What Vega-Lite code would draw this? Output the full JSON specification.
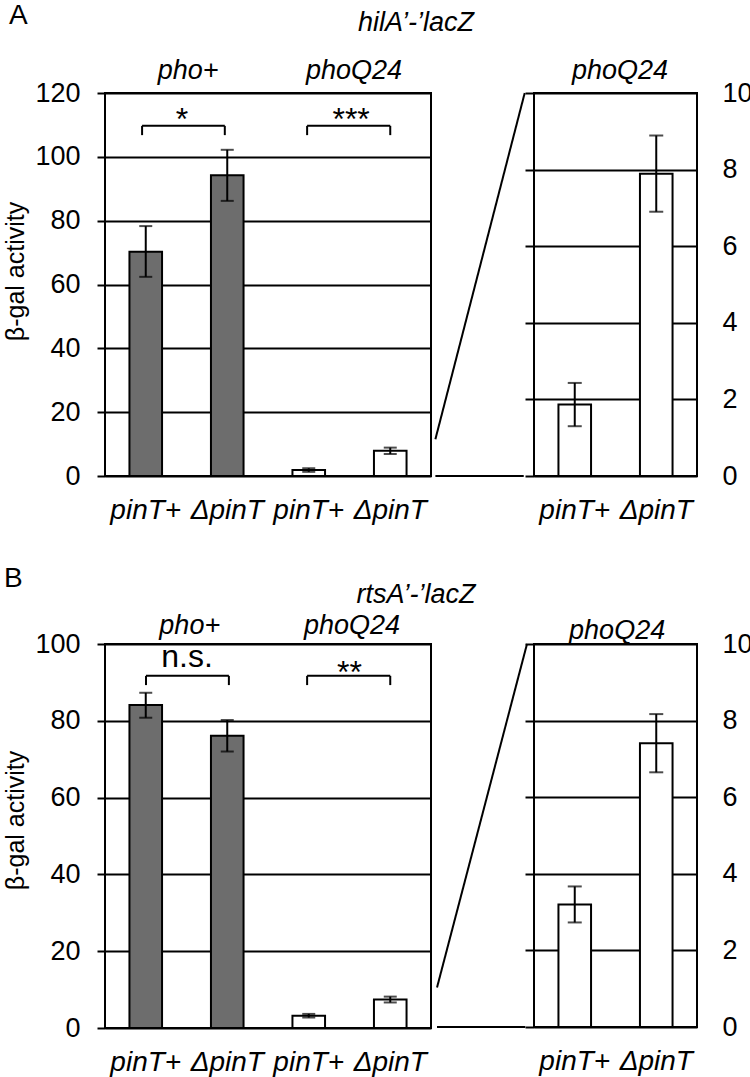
{
  "$schema": "https://vega.github.io/schema/vega-lite/v6.json",
  "background": "white",
  "padding": {"left": 2, "top": 0, "right": 0, "bottom": 0},
  "config": {
    "font": "Liberation Sans",
    "view": {"stroke": "black", "strokeWidth": 2},
    "axis": {"labelColor": "black", "titleColor": "black", "gridColor": "black", "gridWidth": 2, "gridOpacity": 1, "tickColor": "black", "tickWidth": 2, "domainColor": "black", "labelFont": "Liberation Sans", "titleFont": "Liberation Sans"},
    "text": {"color": "black", "font": "Liberation Sans"}
  },
  "datasets": {
    "A_main": [
      {"id": "pho+|pinT+", "group": "pho+", "mean": 70.3, "lo": 62.4, "hi": 78.3},
      {"id": "pho+|ΔpinT", "group": "pho+", "mean": 94.2, "lo": 86.2, "hi": 102.2},
      {"id": "phoQ24|pinT+", "group": "phoQ24", "mean": 1.87, "lo": 1.3, "hi": 2.43},
      {"id": "phoQ24|ΔpinT", "group": "phoQ24", "mean": 7.89, "lo": 6.9, "hi": 8.89}
    ],
    "A_zoom": [
      {"id": "pinT+", "group": "phoQ24", "mean": 1.87, "lo": 1.3, "hi": 2.43},
      {"id": "ΔpinT", "group": "phoQ24", "mean": 7.89, "lo": 6.9, "hi": 8.89}
    ],
    "B_main": [
      {"id": "pho+|pinT+", "group": "pho+", "mean": 84.1, "lo": 80.8, "hi": 87.3},
      {"id": "pho+|ΔpinT", "group": "pho+", "mean": 76.1, "lo": 72.0, "hi": 80.2},
      {"id": "phoQ24|pinT+", "group": "phoQ24", "mean": 3.2, "lo": 2.73, "hi": 3.67},
      {"id": "phoQ24|ΔpinT", "group": "phoQ24", "mean": 7.41, "lo": 6.65, "hi": 8.17}
    ],
    "B_zoom": [
      {"id": "pinT+", "group": "phoQ24", "mean": 3.2, "lo": 2.73, "hi": 3.67},
      {"id": "ΔpinT", "group": "phoQ24", "mean": 7.41, "lo": 6.65, "hi": 8.17}
    ],
    "A_brackets": [
      {"xa": 0.455, "xb": 1.47, "ytop": 109.7, "ybot": 106.8},
      {"xa": 2.48, "xb": 3.5, "ytop": 109.7, "ybot": 106.8}
    ],
    "B_brackets": [
      {"xa": 0.503, "xb": 1.52, "ytop": 91.7, "ybot": 89.3},
      {"xa": 2.48, "xb": 3.5, "ytop": 91.7, "ybot": 89.3}
    ],
    "A_sig": [
      {"x": 0.945, "y": 108.5, "label": "*"},
      {"x": 3.02, "y": 108.5, "label": "***"}
    ],
    "B_sig": [
      {"x": 1.006, "y": 94.1, "label": "n.s."},
      {"x": 3.0, "y": 89.8, "label": "**"}
    ],
    "A_groups": [
      {"x": 1.02, "y": 124.4, "label": "pho+"},
      {"x": 3.055, "y": 124.4, "label": "phoQ24"}
    ],
    "B_groups": [
      {"x": 1.04, "y": 102.6, "label": "pho+"},
      {"x": 3.03, "y": 102.6, "label": "phoQ24"}
    ],
    "A_letter": [{"x": -1.178, "y": 141.7, "label": "A"}],
    "B_letter": [{"x": -1.24, "y": 114.8, "label": "B"}],
    "A_gene": [{"x": 3.816, "y": 139.5, "label": "hilA’-’lacZ"}],
    "B_gene": [{"x": 3.816, "y": 110.7, "label": "rtsA’-’lacZ"}],
    "A_conn": [
      {"xa": -1.21, "xb": -0.114, "ya": 0.96, "yb": 10},
      {"xa": -1.21, "xb": -0.126, "ya": 0, "yb": 0}
    ],
    "B_conn": [
      {"xa": -1.19, "xb": -0.086, "ya": 1.03, "yb": 10},
      {"xa": -1.19, "xb": -0.107, "ya": 0, "yb": 0}
    ],
    "A_ztitle": [{"x": 1.055, "y": 10.36, "label": "phoQ24"}],
    "B_ztitle": [{"x": 1.02, "y": 10.12, "label": "phoQ24"}]
  },
  "vconcat": [
    {
      "hconcat": [
        {
          "width": 326, "height": 383,
          "layer": [
            {
              "data": {"name": "A_main"},
              "layer": [
                {
                  "mark": {"type": "bar", "width": {"band": 0.4}, "stroke": "black", "strokeWidth": 2},
                  "encoding": {
                    "x": {"field": "id", "type": "nominal", "sort": null, "scale": {"paddingInner": 0, "paddingOuter": 0},
                      "axis": {"title": null, "labelExpr": "split(datum.value, '|')[1]", "labelAngle": 0, "labelFontSize": 28, "labelFontStyle": "italic", "ticks": false, "tickSize": 0, "domain": false, "labelPadding": 20, "grid": false}},
                    "y": {"field": "mean", "type": "quantitative", "scale": {"domain": [0, 120], "nice": false},
                      "axis": {"values": [0, 20, 40, 60, 80, 100, 120], "grid": true, "domain": false, "tickSize": 8, "labelFontSize": 27, "labelPadding": 17, "title": "β-gal activity", "titleFontSize": 25, "titleFontWeight": "normal", "titlePadding": 6, "titleY": 178}},
                    "color": {"field": "group", "type": "nominal", "scale": {"domain": ["pho+", "phoQ24"], "range": ["#6d6d6d", "#ffffff"]}, "legend": null}
                  }
                },
                {
                  "mark": {"type": "rule", "color": "black", "strokeWidth": 2},
                  "encoding": {
                    "x": {"field": "id", "type": "nominal", "sort": null},
                    "y": {"field": "lo", "type": "quantitative", "scale": {"domain": [0, 120], "nice": false}},
                    "y2": {"field": "hi"}
                  }
                },
                {
                  "mark": {"type": "tick", "orient": "horizontal", "size": 13, "thickness": 2, "color": "black"},
                  "encoding": {
                    "x": {"field": "id", "type": "nominal", "sort": null},
                    "y": {"field": "lo", "type": "quantitative", "scale": {"domain": [0, 120], "nice": false}}
                  }
                },
                {
                  "mark": {"type": "tick", "orient": "horizontal", "size": 13, "thickness": 2, "color": "black"},
                  "encoding": {
                    "x": {"field": "id", "type": "nominal", "sort": null},
                    "y": {"field": "hi", "type": "quantitative", "scale": {"domain": [0, 120], "nice": false}}
                  }
                }
              ]
            },
            {
              "layer": [
                {
                  "data": {"name": "A_brackets"},
                  "mark": {"type": "rule", "color": "black", "strokeWidth": 2, "clip": false},
                  "encoding": {
                    "x": {"field": "xa", "type": "quantitative", "scale": {"domain": [0, 4], "nice": false, "zero": false}, "axis": null},
                    "x2": {"field": "xb"},
                    "y": {"field": "ytop", "type": "quantitative", "scale": {"domain": [0, 120], "nice": false}}
                  }
                },
                {
                  "data": {"name": "A_brackets"},
                  "mark": {"type": "rule", "color": "black", "strokeWidth": 2, "clip": false},
                  "encoding": {
                    "x": {"field": "xa", "type": "quantitative", "scale": {"domain": [0, 4], "nice": false, "zero": false}, "axis": null},
                    "y": {"field": "ybot", "type": "quantitative", "scale": {"domain": [0, 120], "nice": false}},
                    "y2": {"field": "ytop"}
                  }
                },
                {
                  "data": {"name": "A_brackets"},
                  "mark": {"type": "rule", "color": "black", "strokeWidth": 2, "clip": false},
                  "encoding": {
                    "x": {"field": "xb", "type": "quantitative", "scale": {"domain": [0, 4], "nice": false, "zero": false}, "axis": null},
                    "y": {"field": "ybot", "type": "quantitative", "scale": {"domain": [0, 120], "nice": false}},
                    "y2": {"field": "ytop"}
                  }
                },
                {
                  "data": {"name": "A_sig"},
                  "mark": {"type": "text", "fontSize": 32, "baseline": "alphabetic", "align": "center", "clip": false},
                  "encoding": {
                    "x": {"field": "x", "type": "quantitative", "scale": {"domain": [0, 4], "nice": false, "zero": false}, "axis": null},
                    "y": {"field": "y", "type": "quantitative", "scale": {"domain": [0, 120], "nice": false}},
                    "text": {"field": "label"}
                  }
                },
                {
                  "data": {"name": "A_groups"},
                  "mark": {"type": "text", "fontSize": 27, "fontStyle": "italic", "baseline": "alphabetic", "align": "center", "clip": false},
                  "encoding": {
                    "x": {"field": "x", "type": "quantitative", "scale": {"domain": [0, 4], "nice": false, "zero": false}, "axis": null},
                    "y": {"field": "y", "type": "quantitative", "scale": {"domain": [0, 120], "nice": false}},
                    "text": {"field": "label"}
                  }
                },
                {
                  "data": {"name": "A_letter"},
                  "mark": {"type": "text", "fontSize": 28, "baseline": "alphabetic", "align": "left", "clip": false},
                  "encoding": {
                    "x": {"field": "x", "type": "quantitative", "scale": {"domain": [0, 4], "nice": false, "zero": false}, "axis": null},
                    "y": {"field": "y", "type": "quantitative", "scale": {"domain": [0, 120], "nice": false}},
                    "text": {"field": "label"}
                  }
                },
                {
                  "data": {"name": "A_gene"},
                  "mark": {"type": "text", "fontSize": 27, "fontStyle": "italic", "baseline": "alphabetic", "align": "center", "clip": false},
                  "encoding": {
                    "x": {"field": "x", "type": "quantitative", "scale": {"domain": [0, 4], "nice": false, "zero": false}, "axis": null},
                    "y": {"field": "y", "type": "quantitative", "scale": {"domain": [0, 120], "nice": false}},
                    "text": {"field": "label"}
                  }
                }
              ]
            }
          ],
          "resolve": {"scale": {"x": "independent"}}
        },
        {
          "width": 163, "height": 383,
          "layer": [
            {
              "data": {"name": "A_zoom"},
              "layer": [
                {
                  "mark": {"type": "bar", "width": {"band": 0.4}, "stroke": "black", "strokeWidth": 2},
                  "encoding": {
                    "x": {"field": "id", "type": "nominal", "sort": null, "scale": {"paddingInner": 0, "paddingOuter": 0},
                      "axis": {"title": null, "labelAngle": 0, "labelFontSize": 28, "labelFontStyle": "italic", "ticks": false, "tickSize": 0, "domain": false, "labelPadding": 20, "grid": false}},
                    "y": {"field": "mean", "type": "quantitative", "scale": {"domain": [0, 10], "nice": false},
                      "axis": {"orient": "left", "values": [0, 2, 4, 6, 8, 10], "grid": true, "labels": false, "domain": false, "tickSize": 9, "title": null}},
                    "color": {"field": "group", "type": "nominal", "scale": {"domain": ["pho+", "phoQ24"], "range": ["#6d6d6d", "#ffffff"]}, "legend": null}
                  }
                },
                {
                  "mark": {"type": "rule", "color": "black", "strokeWidth": 2},
                  "encoding": {
                    "x": {"field": "id", "type": "nominal", "sort": null},
                    "y": {"field": "lo", "type": "quantitative", "scale": {"domain": [0, 10], "nice": false}},
                    "y2": {"field": "hi"}
                  }
                },
                {
                  "mark": {"type": "tick", "orient": "horizontal", "size": 14, "thickness": 2, "color": "black"},
                  "encoding": {
                    "x": {"field": "id", "type": "nominal", "sort": null},
                    "y": {"field": "lo", "type": "quantitative", "scale": {"domain": [0, 10], "nice": false}}
                  }
                },
                {
                  "mark": {"type": "tick", "orient": "horizontal", "size": 14, "thickness": 2, "color": "black"},
                  "encoding": {
                    "x": {"field": "id", "type": "nominal", "sort": null},
                    "y": {"field": "hi", "type": "quantitative", "scale": {"domain": [0, 10], "nice": false}}
                  }
                }
              ]
            },
            {
              "layer": [
                {
                  "data": {"name": "A_conn"},
                  "mark": {"type": "rule", "color": "black", "strokeWidth": 2, "clip": false},
                  "encoding": {
                    "x": {"field": "xa", "type": "quantitative", "scale": {"domain": [0, 2], "nice": false, "zero": false}, "axis": null},
                    "x2": {"field": "xb"},
                    "y": {"field": "ya", "type": "quantitative", "scale": {"domain": [0, 10], "nice": false},
                      "axis": {"orient": "right", "values": [0, 2, 4, 6, 8, 10], "grid": false, "ticks": false, "tickSize": 0, "domain": false, "labelFontSize": 27, "labelPadding": 25, "labelAlign": "left", "title": null}},
                    "y2": {"field": "yb"}
                  }
                },
                {
                  "data": {"name": "A_ztitle"},
                  "mark": {"type": "text", "fontSize": 27, "fontStyle": "italic", "baseline": "alphabetic", "align": "center", "clip": false},
                  "encoding": {
                    "x": {"field": "x", "type": "quantitative", "scale": {"domain": [0, 2], "nice": false, "zero": false}, "axis": null},
                    "y": {"field": "y", "type": "quantitative", "scale": {"domain": [0, 10], "nice": false}},
                    "text": {"field": "label"}
                  }
                }
              ]
            }
          ],
          "resolve": {"scale": {"x": "independent"}, "axis": {"y": "independent"}}
        }
      ],
      "spacing": 103,
      "bounds": "flush"
    },
    {
      "hconcat": [
        {
          "width": 326, "height": 384,
          "layer": [
            {
              "data": {"name": "B_main"},
              "layer": [
                {
                  "mark": {"type": "bar", "width": {"band": 0.4}, "stroke": "black", "strokeWidth": 2},
                  "encoding": {
                    "x": {"field": "id", "type": "nominal", "sort": null, "scale": {"paddingInner": 0, "paddingOuter": 0},
                      "axis": {"title": null, "labelExpr": "split(datum.value, '|')[1]", "labelAngle": 0, "labelFontSize": 28, "labelFontStyle": "italic", "ticks": false, "tickSize": 0, "domain": false, "labelPadding": 20, "grid": false}},
                    "y": {"field": "mean", "type": "quantitative", "scale": {"domain": [0, 100], "nice": false},
                      "axis": {"values": [0, 20, 40, 60, 80, 100], "grid": true, "domain": false, "tickSize": 8, "labelFontSize": 27, "labelPadding": 17, "title": "β-gal activity", "titleFontSize": 25, "titleFontWeight": "normal", "titlePadding": 6, "titleY": 176}},
                    "color": {"field": "group", "type": "nominal", "scale": {"domain": ["pho+", "phoQ24"], "range": ["#6d6d6d", "#ffffff"]}, "legend": null}
                  }
                },
                {
                  "mark": {"type": "rule", "color": "black", "strokeWidth": 2},
                  "encoding": {
                    "x": {"field": "id", "type": "nominal", "sort": null},
                    "y": {"field": "lo", "type": "quantitative", "scale": {"domain": [0, 100], "nice": false}},
                    "y2": {"field": "hi"}
                  }
                },
                {
                  "mark": {"type": "tick", "orient": "horizontal", "size": 13, "thickness": 2, "color": "black"},
                  "encoding": {
                    "x": {"field": "id", "type": "nominal", "sort": null},
                    "y": {"field": "lo", "type": "quantitative", "scale": {"domain": [0, 100], "nice": false}}
                  }
                },
                {
                  "mark": {"type": "tick", "orient": "horizontal", "size": 13, "thickness": 2, "color": "black"},
                  "encoding": {
                    "x": {"field": "id", "type": "nominal", "sort": null},
                    "y": {"field": "hi", "type": "quantitative", "scale": {"domain": [0, 100], "nice": false}}
                  }
                }
              ]
            },
            {
              "layer": [
                {
                  "data": {"name": "B_brackets"},
                  "mark": {"type": "rule", "color": "black", "strokeWidth": 2, "clip": false},
                  "encoding": {
                    "x": {"field": "xa", "type": "quantitative", "scale": {"domain": [0, 4], "nice": false, "zero": false}, "axis": null},
                    "x2": {"field": "xb"},
                    "y": {"field": "ytop", "type": "quantitative", "scale": {"domain": [0, 100], "nice": false}}
                  }
                },
                {
                  "data": {"name": "B_brackets"},
                  "mark": {"type": "rule", "color": "black", "strokeWidth": 2, "clip": false},
                  "encoding": {
                    "x": {"field": "xa", "type": "quantitative", "scale": {"domain": [0, 4], "nice": false, "zero": false}, "axis": null},
                    "y": {"field": "ybot", "type": "quantitative", "scale": {"domain": [0, 100], "nice": false}},
                    "y2": {"field": "ytop"}
                  }
                },
                {
                  "data": {"name": "B_brackets"},
                  "mark": {"type": "rule", "color": "black", "strokeWidth": 2, "clip": false},
                  "encoding": {
                    "x": {"field": "xb", "type": "quantitative", "scale": {"domain": [0, 4], "nice": false, "zero": false}, "axis": null},
                    "y": {"field": "ybot", "type": "quantitative", "scale": {"domain": [0, 100], "nice": false}},
                    "y2": {"field": "ytop"}
                  }
                },
                {
                  "data": {"name": "B_sig"},
                  "mark": {"type": "text", "fontSize": 32, "baseline": "alphabetic", "align": "center", "clip": false},
                  "encoding": {
                    "x": {"field": "x", "type": "quantitative", "scale": {"domain": [0, 4], "nice": false, "zero": false}, "axis": null},
                    "y": {"field": "y", "type": "quantitative", "scale": {"domain": [0, 100], "nice": false}},
                    "text": {"field": "label"}
                  }
                },
                {
                  "data": {"name": "B_groups"},
                  "mark": {"type": "text", "fontSize": 27, "fontStyle": "italic", "baseline": "alphabetic", "align": "center", "clip": false},
                  "encoding": {
                    "x": {"field": "x", "type": "quantitative", "scale": {"domain": [0, 4], "nice": false, "zero": false}, "axis": null},
                    "y": {"field": "y", "type": "quantitative", "scale": {"domain": [0, 100], "nice": false}},
                    "text": {"field": "label"}
                  }
                },
                {
                  "data": {"name": "B_letter"},
                  "mark": {"type": "text", "fontSize": 28, "baseline": "alphabetic", "align": "left", "clip": false},
                  "encoding": {
                    "x": {"field": "x", "type": "quantitative", "scale": {"domain": [0, 4], "nice": false, "zero": false}, "axis": null},
                    "y": {"field": "y", "type": "quantitative", "scale": {"domain": [0, 100], "nice": false}},
                    "text": {"field": "label"}
                  }
                },
                {
                  "data": {"name": "B_gene"},
                  "mark": {"type": "text", "fontSize": 27, "fontStyle": "italic", "baseline": "alphabetic", "align": "center", "clip": false},
                  "encoding": {
                    "x": {"field": "x", "type": "quantitative", "scale": {"domain": [0, 4], "nice": false, "zero": false}, "axis": null},
                    "y": {"field": "y", "type": "quantitative", "scale": {"domain": [0, 100], "nice": false}},
                    "text": {"field": "label"}
                  }
                }
              ]
            }
          ],
          "resolve": {"scale": {"x": "independent"}}
        },
        {
          "width": 163, "height": 383,
          "layer": [
            {
              "data": {"name": "B_zoom"},
              "layer": [
                {
                  "mark": {"type": "bar", "width": {"band": 0.4}, "stroke": "black", "strokeWidth": 2},
                  "encoding": {
                    "x": {"field": "id", "type": "nominal", "sort": null, "scale": {"paddingInner": 0, "paddingOuter": 0},
                      "axis": {"title": null, "labelAngle": 0, "labelFontSize": 28, "labelFontStyle": "italic", "ticks": false, "tickSize": 0, "domain": false, "labelPadding": 20, "grid": false}},
                    "y": {"field": "mean", "type": "quantitative", "scale": {"domain": [0, 10], "nice": false},
                      "axis": {"orient": "left", "values": [0, 2, 4, 6, 8, 10], "grid": true, "labels": false, "domain": false, "tickSize": 9, "title": null}},
                    "color": {"field": "group", "type": "nominal", "scale": {"domain": ["pho+", "phoQ24"], "range": ["#6d6d6d", "#ffffff"]}, "legend": null}
                  }
                },
                {
                  "mark": {"type": "rule", "color": "black", "strokeWidth": 2},
                  "encoding": {
                    "x": {"field": "id", "type": "nominal", "sort": null},
                    "y": {"field": "lo", "type": "quantitative", "scale": {"domain": [0, 10], "nice": false}},
                    "y2": {"field": "hi"}
                  }
                },
                {
                  "mark": {"type": "tick", "orient": "horizontal", "size": 14, "thickness": 2, "color": "black"},
                  "encoding": {
                    "x": {"field": "id", "type": "nominal", "sort": null},
                    "y": {"field": "lo", "type": "quantitative", "scale": {"domain": [0, 10], "nice": false}}
                  }
                },
                {
                  "mark": {"type": "tick", "orient": "horizontal", "size": 14, "thickness": 2, "color": "black"},
                  "encoding": {
                    "x": {"field": "id", "type": "nominal", "sort": null},
                    "y": {"field": "hi", "type": "quantitative", "scale": {"domain": [0, 10], "nice": false}}
                  }
                }
              ]
            },
            {
              "layer": [
                {
                  "data": {"name": "B_conn"},
                  "mark": {"type": "rule", "color": "black", "strokeWidth": 2, "clip": false},
                  "encoding": {
                    "x": {"field": "xa", "type": "quantitative", "scale": {"domain": [0, 2], "nice": false, "zero": false}, "axis": null},
                    "x2": {"field": "xb"},
                    "y": {"field": "ya", "type": "quantitative", "scale": {"domain": [0, 10], "nice": false},
                      "axis": {"orient": "right", "values": [0, 2, 4, 6, 8, 10], "grid": false, "ticks": false, "tickSize": 0, "domain": false, "labelFontSize": 27, "labelPadding": 25, "labelAlign": "left", "title": null}},
                    "y2": {"field": "yb"}
                  }
                },
                {
                  "data": {"name": "B_ztitle"},
                  "mark": {"type": "text", "fontSize": 27, "fontStyle": "italic", "baseline": "alphabetic", "align": "center", "clip": false},
                  "encoding": {
                    "x": {"field": "x", "type": "quantitative", "scale": {"domain": [0, 2], "nice": false, "zero": false}, "axis": null},
                    "y": {"field": "y", "type": "quantitative", "scale": {"domain": [0, 10], "nice": false}},
                    "text": {"field": "label"}
                  }
                }
              ]
            }
          ],
          "resolve": {"scale": {"x": "independent"}, "axis": {"y": "independent"}}
        }
      ],
      "spacing": 103,
      "bounds": "flush"
    }
  ],
  "spacing": 551,
  "bounds": "flush"
}
